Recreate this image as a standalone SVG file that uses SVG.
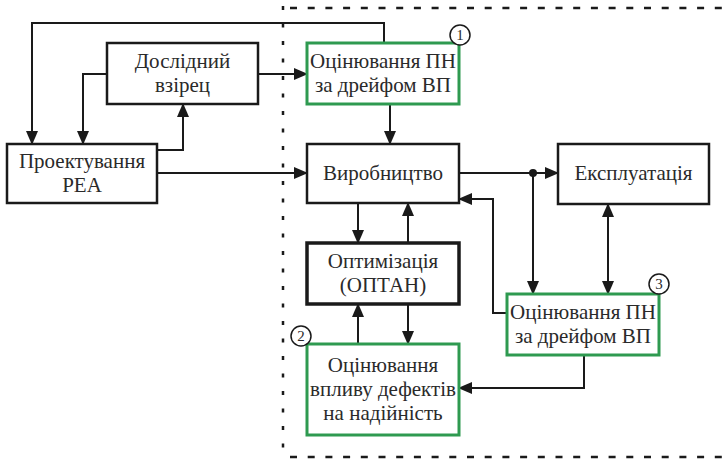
<svg xmlns="http://www.w3.org/2000/svg" width="728" height="459" viewBox="0 0 728 459">
<defs>
<marker id="ah" markerWidth="14" markerHeight="12" refX="13" refY="6" orient="auto-start-reverse" markerUnits="userSpaceOnUse">
<path d="M0,0 L14,6 L0,12 Z" fill="#1a1a1a"/>
</marker>
</defs>
<rect width="728" height="459" fill="#fff"/>
<g id="border" stroke="#1a1a1a" stroke-width="2.5">
<line stroke-dasharray="4 13.5" x1="283" y1="6" x2="283" y2="455"/>
<line stroke-dasharray="7 10.7" x1="290" y1="8" x2="728" y2="8"/>
<line stroke-dasharray="7 10.7" x1="290" y1="457" x2="728" y2="457"/>
</g>
<g id="connectors" fill="none" stroke="#1a1a1a" stroke-width="2" marker-end="url(#ah)">
<path d="M384,43 V23 H32 V144"/>
<path d="M107,74 H83 V144"/>
<path d="M157,150 H183 V104"/>
<path d="M258,74 H307"/>
<path d="M157,173 H307"/>
<path d="M390,104 V144"/>
<path d="M459,173 H558"/>
<path d="M533,173 V294"/>
<path d="M608,204 V294" marker-start="url(#ah)"/>
<path d="M507,313 H493 V199 H459"/>
<path d="M358,203 V243"/>
<path d="M408,243 V203"/>
<path d="M358,344 V304"/>
<path d="M408,304 V344"/>
<path d="M584,355 V388 H459"/>
<circle cx="533" cy="173" r="4" fill="#1a1a1a" stroke="none" marker-end="none"/>
</g>
<g font-size="21" text-anchor="middle" fill="#2a2a2a">
<g id="doslidnyi">
<rect x="107" y="43" width="151" height="61" fill="#fff" stroke="#1a1a1a" stroke-width="2.5"/>
<text font-family="Liberation Serif, Tinos, Times New Roman, serif" x="182.5" y="68">Дослідний</text>
<text font-family="Liberation Serif, Tinos, Times New Roman, serif" x="182.5" y="92">взірец</text>
</g>
<g id="proektuvannia">
<rect x="7" y="144" width="150" height="59" fill="#fff" stroke="#1a1a1a" stroke-width="2.5"/>
<text font-family="Liberation Serif, Tinos, Times New Roman, serif" x="82" y="168">Проектування</text>
<text font-family="Liberation Serif, Tinos, Times New Roman, serif" x="82" y="192">РЕА</text>
</g>
<g id="otsin1">
<rect x="307" y="43" width="152" height="61" fill="#fff" stroke="#2e9a50" stroke-width="3"/>
<text font-family="Liberation Serif, Tinos, Times New Roman, serif" x="383" y="68">Оцінювання ПН</text>
<text font-family="Liberation Serif, Tinos, Times New Roman, serif" x="383" y="92">за дрейфом ВП</text>
<circle cx="460" cy="35" r="10" fill="#fff" stroke="#1a1a1a" stroke-width="1.5"/>
<text font-family="Liberation Serif, Tinos, Times New Roman, serif" font-size="15" x="460" y="40">1</text>
</g>
<g id="vyrobnytstvo">
<rect x="307" y="144" width="152" height="59" fill="#fff" stroke="#1a1a1a" stroke-width="2.5"/>
<text font-family="Liberation Serif, Tinos, Times New Roman, serif" x="383" y="180">Виробництво</text>
</g>
<g id="ekspluatatsiia">
<rect x="558" y="144" width="151" height="60" fill="#fff" stroke="#1a1a1a" stroke-width="2.5"/>
<text font-family="Liberation Serif, Tinos, Times New Roman, serif" x="633.5" y="180">Експлуатація</text>
</g>
<g id="optymizatsiia">
<rect x="307" y="243" width="152" height="61" fill="#fff" stroke="#1a1a1a" stroke-width="3.5"/>
<text font-family="Liberation Serif, Tinos, Times New Roman, serif" x="383" y="268">Оптимізація</text>
<text font-family="Liberation Serif, Tinos, Times New Roman, serif" x="383" y="292">(ОПТАН)</text>
</g>
<g id="otsin2">
<rect x="307" y="344" width="152" height="91" fill="#fff" stroke="#2e9a50" stroke-width="3"/>
<text font-family="Liberation Serif, Tinos, Times New Roman, serif" x="383" y="372">Оцінювання</text>
<text font-family="Liberation Serif, Tinos, Times New Roman, serif" x="383" y="396">впливу дефектів</text>
<text font-family="Liberation Serif, Tinos, Times New Roman, serif" x="383" y="420">на надійність</text>
<circle cx="301" cy="336" r="10" fill="#fff" stroke="#1a1a1a" stroke-width="1.5"/>
<text font-family="Liberation Serif, Tinos, Times New Roman, serif" font-size="15" x="301" y="341">2</text>
</g>
<g id="otsin3">
<rect x="507" y="294" width="152" height="61" fill="#fff" stroke="#2e9a50" stroke-width="3"/>
<text font-family="Liberation Serif, Tinos, Times New Roman, serif" x="583" y="319">Оцінювання ПН</text>
<text font-family="Liberation Serif, Tinos, Times New Roman, serif" x="583" y="343">за дрейфом ВП</text>
<circle cx="659" cy="284" r="10" fill="#fff" stroke="#1a1a1a" stroke-width="1.5"/>
<text font-family="Liberation Serif, Tinos, Times New Roman, serif" font-size="15" x="659" y="289">3</text>
</g>
</g>
</svg>
